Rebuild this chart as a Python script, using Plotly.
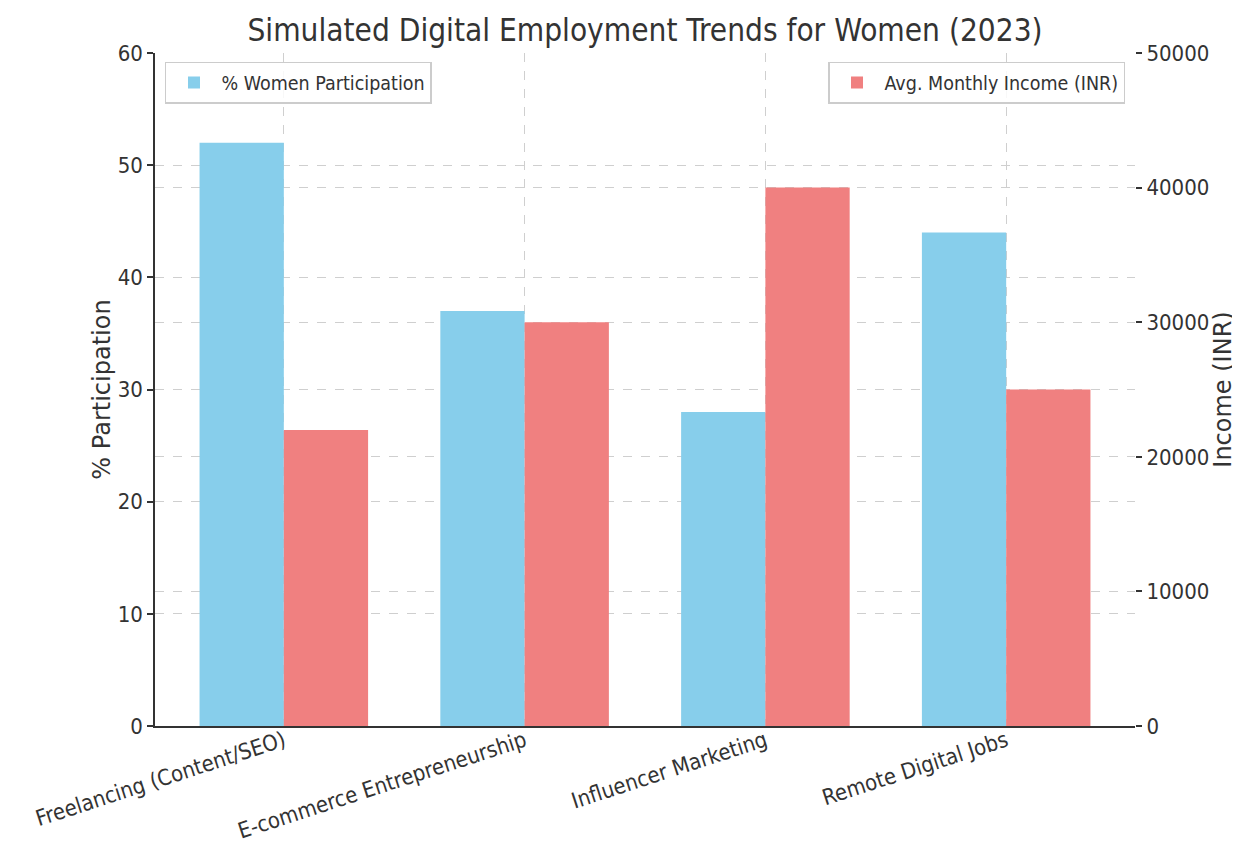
import plotly.graph_objects as go

categories = ["Freelancing (Content/SEO)", "E-commerce Entrepreneurship",
              "Influencer Marketing", "Remote Digital Jobs"]
participation = [52, 37, 28, 44]
income = [22000, 30000, 40000, 25000]
left_ticks = [0, 10, 20, 30, 40, 50, 60]
right_ticks = [0, 10000, 20000, 30000, 40000, 50000]

FONT = "DejaVu Sans Condensed, DejaVu Sans, sans-serif"
FONT_V = "DejaVu Sans, sans-serif"
TXT = "#333333"
GRID = "#cfcfcf"

fig = go.Figure()
fig.add_trace(go.Bar(
    x=categories, y=participation, name="% Women Participation",
    marker=dict(color="#87CEEB", line=dict(width=0)),
    width=0.35, offset=-0.35, yaxis="y", legend="legend", showlegend=True,
))
fig.add_trace(go.Bar(
    x=categories, y=income, name="Avg. Monthly Income (INR)",
    marker=dict(color="#F08080", line=dict(width=0)),
    width=0.35, offset=0, yaxis="y2", legend="legend2", showlegend=True,
))

fig.update_layout(
    width=1240, height=848,
    margin=dict(l=147, r=113, t=45, b=130, autoexpand=False),
    paper_bgcolor="white", plot_bgcolor="white",
    showlegend=True,
    font=dict(family=FONT, color=TXT, size=20),
    title=dict(text="Simulated Digital Employment Trends for Women (2023)",
               x=0.5, xref="paper", xanchor="center",
               y=0.974, yref="container", yanchor="middle",
               font=dict(size=31.3, family=FONT, color=TXT)),
    barmode="overlay",
    xaxis=dict(
        type="category", range=[-0.535, 3.535],
        showgrid=True, gridcolor=GRID, griddash="dash", gridwidth=1,
        showline=True, linecolor=TXT, linewidth=1.5,
        ticks="", tickangle=-18, ticklabelstandoff=-8,
        tickfont=dict(size=22, family=FONT, color=TXT),
        automargin=False, zeroline=False,
    ),
    yaxis=dict(
        range=[0, 60], tickvals=left_ticks,
        showgrid=True, gridcolor=GRID, griddash="dash", gridwidth=1,
        showline=True, linecolor=TXT, linewidth=1.5,
        ticks="outside", ticklen=6, tickcolor=TXT, tickwidth=1.5,
        tickfont=dict(size=22, family=FONT, color=TXT),
        title=dict(text="% Participation", font=dict(size=24, family=FONT_V, color=TXT),
                   standoff=0),
        zeroline=False, automargin=False,
    ),
    yaxis2=dict(
        range=[0, 50000], tickvals=right_ticks, tickformat="d",
        overlaying="y", side="right",
        showgrid=True, gridcolor=GRID, griddash="dash", gridwidth=1,
        showline=False,
        ticks="outside", ticklen=6, tickcolor=TXT, tickwidth=1.5,
        tickfont=dict(size=22, family=FONT, color=TXT),
        title=dict(text="Income (INR)", font=dict(size=24, family=FONT_V, color=TXT),
                   standoff=2),
        zeroline=False, automargin=False,
    ),
    legend=dict(
        x=0.0102, y=0.987, xanchor="left", yanchor="top",
        bgcolor="rgba(255,255,255,0.85)", bordercolor="#cccccc", borderwidth=1.5,
        font=dict(size=19.5, family=FONT, color=TXT), itemwidth=45,
    ),
    legend2=dict(
        x=0.9898, y=0.987, xanchor="right", yanchor="top",
        bgcolor="rgba(255,255,255,0.85)", bordercolor="#cccccc", borderwidth=1.5,
        font=dict(size=19.5, family=FONT, color=TXT), itemwidth=45,
    ),
)

fig.write_html("out.html")
